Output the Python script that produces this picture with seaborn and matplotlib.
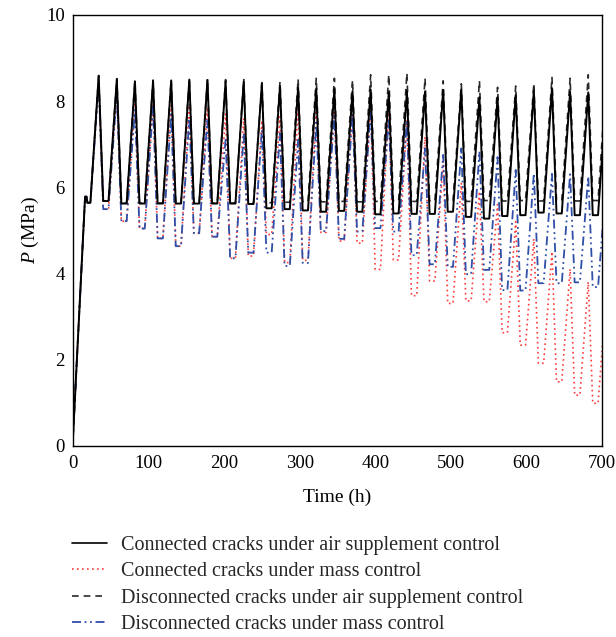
import matplotlib
matplotlib.use("Agg")
import matplotlib.pyplot as plt
import pandas as pd
import seaborn as sns
from matplotlib.lines import Line2D

# Initial pressurisation stage shared by all cases
start_times = [0, 16, 18, 19, 23]
start_values = [0.2, 5.78, 5.78, 5.64, 5.64]

# Time of the pressure peak in each daily cycle (h)
peak_times = [34, 58, 82, 106, 130, 154, 178, 202, 226, 250, 274, 298, 322, 346,
              370, 394, 418, 442, 466, 490, 514, 538, 562, 586, 610, 634, 658, 682, 706]

series_names = [
    "Connected cracks under air supplement control",
    "Connected cracks under mass control",
    "Disconnected cracks under air supplement control",
    "Disconnected cracks under mass control",
]

# Peak and trough pressure (MPa) of each cycle
conn_air_peaks = [8.59, 8.51, 8.46, 8.47, 8.47, 8.50, 8.49, 8.46, 8.45, 8.40, 8.35, 8.32, 8.29, 8.28,
                  8.23, 8.27, 8.20, 8.23, 8.22, 8.26, 8.27, 8.09, 8.09, 8.14, 8.24, 8.30, 8.22, 8.20, 8.20]
conn_air_troughs = [5.68, 5.62, 5.62, 5.62, 5.62, 5.62, 5.62, 5.62, 5.61, 5.51, 5.49, 5.46, 5.43, 5.45,
                    5.43, 5.37, 5.39, 5.38, 5.38, 5.43, 5.31, 5.27, 5.33, 5.35, 5.41, 5.39, 5.35, 5.35]

conn_mass_peaks = [8.50, 8.30, 8.00, 8.00, 7.90, 7.90, 7.85, 7.70, 7.60, 7.55, 7.64, 7.87, 7.79, 7.90,
                   7.90, 7.91, 7.91, 7.56, 7.17, 6.60, 6.10, 5.90, 5.60, 5.20, 4.80, 4.50, 4.10, 3.80, 3.50]
conn_mass_troughs = [5.49, 5.21, 5.04, 4.81, 4.63, 4.93, 4.85, 4.35, 4.40, 4.90, 4.25, 4.30, 4.95, 4.75,
                     4.70, 4.09, 4.31, 3.48, 3.82, 3.30, 3.36, 3.34, 2.62, 2.33, 1.91, 1.48, 1.17, 0.98]

disc_air_peaks = [8.59, 8.52, 8.48, 8.49, 8.50, 8.53, 8.52, 8.50, 8.50, 8.43, 8.45, 8.51, 8.53, 8.53,
                  8.49, 8.61, 8.61, 8.65, 8.53, 8.47, 8.40, 8.47, 8.32, 8.35, 8.41, 8.55, 8.53, 8.61, 8.60]
disc_air_troughs = [5.68, 5.63, 5.63, 5.63, 5.63, 5.63, 5.63, 5.63, 5.63, 5.64, 5.65, 5.66, 5.66, 5.67,
                    5.66, 5.67, 5.68, 5.67, 5.68, 5.68, 5.67, 5.69, 5.68, 5.69, 5.68, 5.69, 5.68, 5.69]

disc_mass_peaks = [8.42, 8.19, 7.80, 7.90, 7.70, 7.60, 7.60, 7.10, 7.25, 7.33, 7.25, 7.10, 7.50, 7.70,
                   7.70, 7.80, 7.60, 7.55, 6.90, 6.75, 6.90, 6.83, 6.70, 6.40, 6.32, 6.31, 6.30, 6.25, 6.20]
disc_mass_troughs = [5.49, 5.21, 5.04, 4.81, 4.63, 4.93, 4.85, 4.35, 4.48, 4.48, 4.17, 4.24, 4.98, 4.80,
                     4.97, 5.05, 4.97, 4.42, 4.21, 4.15, 3.98, 4.08, 3.61, 3.60, 3.77, 3.77, 3.79, 3.68]

FALL_H = 6      # hours from peak to start of low-pressure stage
LOW_END_H = 13  # hours from peak to end of low-pressure stage


def cycle_points(peaks, troughs):
    t = list(start_times)
    p = list(start_values)
    for i, (tp, vp) in enumerate(zip(peak_times, peaks)):
        t.append(tp)
        p.append(vp)
        if i < len(troughs):
            t += [tp + FALL_H, tp + LOW_END_H]
            p += [troughs[i], troughs[i]]
    return t, p


frames = []
for name, pk, tr in zip(series_names,
                        [conn_air_peaks, conn_mass_peaks, disc_air_peaks, disc_mass_peaks],
                        [conn_air_troughs, conn_mass_troughs, disc_air_troughs, disc_mass_troughs]):
    t, p = cycle_points(pk, tr)
    frames.append(pd.DataFrame({"Time": t, "P": p, "case": name}))
df = pd.concat(frames, ignore_index=True)

sns.set_theme(style="white")
plt.rcParams["font.family"] = ["Liberation Serif", "DejaVu Serif"]
plt.rcParams["mathtext.fontset"] = "custom"
plt.rcParams["mathtext.rm"] = "Liberation Serif"
plt.rcParams["mathtext.it"] = "Liberation Serif:italic"

colors = {
    series_names[0]: "#000000",
    series_names[1]: "#ff3b3b",
    series_names[2]: "#2a2a2a",
    series_names[3]: "#2f4fa8",
}
dashes = {
    series_names[0]: "",
    series_names[1]: (1, 2),
    series_names[2]: (4, 3),
    series_names[3]: (5, 2, 1, 2, 1, 2),
}
widths = {
    series_names[0]: 1.4,
    series_names[1]: 1.2,
    series_names[2]: 1.2,
    series_names[3]: 1.3,
}

fig = plt.figure(figsize=(6.16, 6.37), dpi=100)
ax = fig.add_axes([0.1185, 0.3006, 0.8585, 0.6759])

draw_order = [series_names[1], series_names[3], series_names[2], series_names[0]]
for name in draw_order:
    sub = df[df["case"] == name]
    sns.lineplot(data=sub, x="Time", y="P", ax=ax, color=colors[name],
                 linewidth=widths[name], sort=False, estimator=None,
                 dashes=False, legend=False)
    line = ax.get_lines()[-1]
    if dashes[name]:
        line.set_dashes(dashes[name])
    line.set_solid_joinstyle("round")
    line.set_dash_joinstyle("round")

ax.set_xlim(0, 700)
ax.set_ylim(0, 10)
ax.set_xticks(range(0, 701, 100))
ax.set_yticks(range(0, 11, 2))
ax.tick_params(length=0, labelsize=13.5, colors="black")
ax.tick_params(axis="y", pad=6)
ax.tick_params(axis="x", pad=7)
for s in ax.spines.values():
    s.set_visible(True)
    s.set_color("black")
    s.set_linewidth(1.0)
ax.set_xlabel("Time (h)", fontsize=14, color="black")
ax.set_ylabel(r"$P$ (MPa)", fontsize=14, color="black")
ax.xaxis.set_label_coords(0.5, -0.101)
ax.yaxis.set_label_coords(-0.061, 0.5)

handles = [Line2D([], [], color=colors[n], linewidth=widths[n],
                  dashes=dashes[n] if dashes[n] else (None, None)) for n in series_names]
handles[0] = Line2D([], [], color="black", linewidth=1.2)
fig.legend(handles, series_names, loc="upper left", bbox_to_anchor=(0.117, 1 - 536 / 637),
           frameon=False, fontsize=14.5, handlelength=1.75, handletextpad=0.68,
           labelspacing=0.36, borderpad=0, borderaxespad=0)

fig.savefig("out.png", dpi=100, facecolor="white")
